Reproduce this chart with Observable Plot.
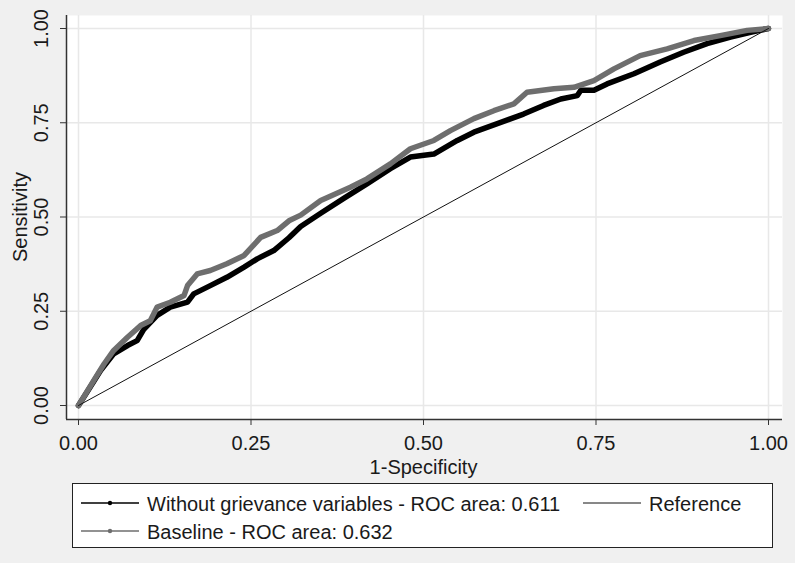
<!DOCTYPE html>
<html><head><meta charset="utf-8">
<script src="https://cdn.jsdelivr.net/npm/d3@7"></script>
<script src="https://cdn.jsdelivr.net/npm/@observablehq/plot@0.6"></script>
<style>
html,body{margin:0;padding:0;background:#f0f0f0;}
#wrap{position:relative;width:795px;height:563px;overflow:hidden;font-family:"Liberation Sans",Arial,sans-serif;color:#1a1a1a;}
#chart{position:absolute;left:0;top:0;}
#legend{position:absolute;left:72px;top:483px;width:699px;height:63px;border:1px solid #222;background:#fff;}
#legend svg{display:block;}
</style></head><body><div id="wrap"><div id="chart"></div><div id="legend"></div></div>
<script>
const xTicks = [0, 0.25, 0.5, 0.75, 1];
const yTicks = [0, 0.25, 0.5, 0.75, 1];
const xLabel = "1-Specificity";
const yLabel = "Sensitivity";
const seriesNames = ["Without grievance variables - ROC area: 0.611", "Baseline - ROC area: 0.632", "Reference"];
const seriesColors = ["#000000", "#6e6e6e", "#111111"];

// Without grievance variables
const withoutFpr = [0, .017, .032, .051, .071, .085, .095, .114, .133, .158, .167, .191, .215, .24, .259, .283, .305, .322, .351, .385, .418, .452, .481, .515, .549, .573, .612, .645, .674, .699, .723, .728, .747, .766, .805, .843, .877, .911, .945, .974, 1];
const withoutTpr = [0, .049, .093, .137, .159, .172, .203, .239, .261, .274, .296, .318, .34, .367, .389, .411, .445, .475, .51, .55, .588, .628, .659, .667, .703, .725, .751, .773, .796, .813, .822, .836, .836, .853, .88, .911, .937, .96, .977, .99, 1];
// Baseline
const baseFpr = [0, .022, .037, .051, .071, .09, .104, .114, .133, .153, .158, .172, .191, .215, .24, .264, .288, .305, .322, .351, .394, .418, .452, .481, .515, .539, .573, .602, .631, .65, .689, .718, .747, .776, .814, .853, .892, .93, .969, 1];
const baseTpr = [0, .066, .11, .146, .181, .212, .225, .261, .274, .292, .318, .349, .358, .376, .398, .446, .464, .49, .505, .544, .579, .601, .641, .681, .703, .729, .761, .782, .8, .831, .84, .844, .862, .893, .928, .946, .968, .981, .995, 1];
// Reference
const refFpr = [0, 1];
const refTpr = [0, 1];

const toRows = (xs, ys) => xs.map((x, i) => ({x, y: ys[i]}));
const H = 480;
const font = '"Liberation Sans", Arial, sans-serif';

const chart = Plot.plot({
  width: 795, height: H,
  marginLeft: 78, marginRight: 27, marginTop: 28, marginBottom: H - 405,
  x: {domain: [0, 1], axis: null},
  y: {domain: [0, 1], axis: null},
  style: {background: "transparent", fontFamily: font, color: "#1a1a1a", overflow: "visible"},
  marks: [
    Plot.frame({fill: "#ffffff", stroke: null, insetLeft: -12, insetRight: -14, insetTop: -13, insetBottom: -14}),
    Plot.ruleX(xTicks, {stroke: "#e8e8e8", strokeWidth: 1.5, insetTop: -13, insetBottom: -14}),
    Plot.ruleY(yTicks, {stroke: "#e8e8e8", strokeWidth: 1.5, insetLeft: -12, insetRight: -14}),
    Plot.ruleX([xTicks[0]], {dx: -12, insetTop: -13, insetBottom: -14, stroke: "#333", strokeWidth: 1.5}),
    Plot.ruleY([yTicks[0]], {dy: 14, insetLeft: -12, insetRight: -14, stroke: "#333", strokeWidth: 1.5}),
    Plot.axisX({ticks: xTicks, tickSize: 6, dy: 14, tickFormat: () => "", label: null, stroke: "#333"}),
    Plot.axisY({ticks: yTicks, tickSize: 6, dx: -12, tickFormat: () => "", label: null, stroke: "#333"}),
    Plot.text(xTicks, {x: d => d, frameAnchor: "bottom", dy: 44, lineAnchor: "bottom", text: d => d.toFixed(2), fontSize: 20, fill: "#1a1a1a"}),
    Plot.text(yTicks, {y: d => d, frameAnchor: "left", dx: -37, rotate: -90, textAnchor: "middle", lineAnchor: "middle", text: d => d.toFixed(2), fontSize: 20, fill: "#1a1a1a"}),
    Plot.text([xLabel], {frameAnchor: "bottom", dy: 68, lineAnchor: "bottom", fontSize: 20, fill: "#1a1a1a"}),
    Plot.text([yLabel], {frameAnchor: "left", dx: -58, rotate: -90, textAnchor: "middle", lineAnchor: "middle", fontSize: 20, fill: "#1a1a1a"}),
    Plot.line(toRows(withoutFpr, withoutTpr), {x: "x", y: "y", stroke: seriesColors[0], strokeWidth: 5.5}),
    Plot.line(toRows(baseFpr, baseTpr), {x: "x", y: "y", stroke: seriesColors[1], strokeWidth: 5.5}),
    Plot.line(toRows(refFpr, refTpr), {x: "x", y: "y", stroke: seriesColors[2], strokeWidth: 1})
  ]
});
document.getElementById("chart").appendChild(chart);

// Legend
const lg = d3.select("#legend").append("svg").attr("width", 699).attr("height", 63)
  .style("font-family", font).style("font-size", "20px");
const items = [
  {name: seriesNames[0], color: seriesColors[0], x: 8, y: 19, dot: true},
  {name: seriesNames[1], color: seriesColors[1], x: 8, y: 47, dot: true},
  {name: seriesNames[2], color: seriesColors[2], x: 510, y: 19, dot: false}
];
items.forEach(it => {
  lg.append("line").attr("x1", it.x).attr("x2", it.x + 58).attr("y1", it.y).attr("y2", it.y)
    .attr("stroke", it.color).attr("stroke-width", it.dot ? 1.5 : 1);
  if (it.dot) lg.append("circle").attr("cx", it.x + 29).attr("cy", it.y).attr("r", 2.2).attr("fill", it.color);
  lg.append("text").attr("x", it.x + 66).attr("y", it.y + 8).attr("fill", "#1a1a1a").text(it.name);
});
</script></body></html>
